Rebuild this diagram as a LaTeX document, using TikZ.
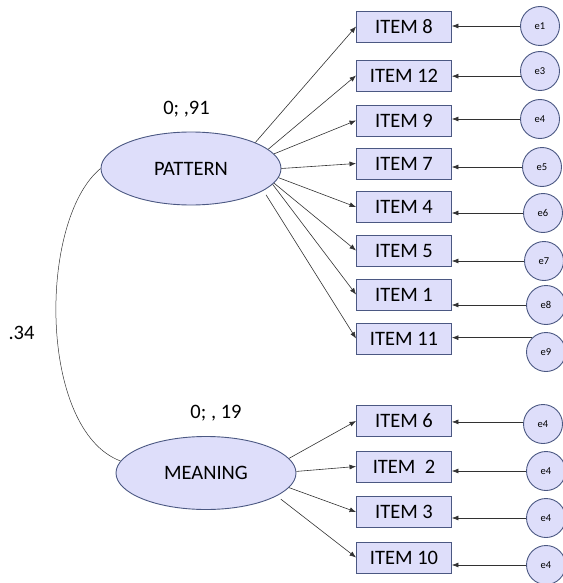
\documentclass[tikz,border=0pt]{standalone}
\usepackage{fontspec}
\setmainfont{Carlito}
\usetikzlibrary{arrows.meta,shapes.geometric}
\definecolor{fillc}{RGB}{222,222,250}
\definecolor{bordc}{RGB}{75,88,130}
\definecolor{linec}{RGB}{50,50,50}
\tikzset{
  itembox/.style={draw=bordc, fill=fillc, line width=0.9pt, minimum width=95pt, minimum height=31pt, inner sep=0pt, font=\fontsize{20.5}{21}\selectfont},
  latent/.style={ellipse, draw=bordc, fill=fillc, line width=0.9pt, minimum width=180pt, minimum height=73pt, inner sep=0pt, font=\fontsize{20.5}{21}\selectfont},
  errc/.style={circle, draw=bordc, fill=fillc, line width=0.9pt, minimum size=39pt, inner sep=0pt, font=\fontsize{10.5}{11}\selectfont},
  lbl/.style={inner sep=0pt, font=\fontsize{20.5}{21}\selectfont},
  conn/.style={draw=linec, line width=0.6pt, -{Latex[length=6.5pt,width=5pt]}}
}
\begin{document}
\begin{tikzpicture}[x=1pt,y=-1pt]
\useasboundingbox (0,0) rectangle (562,583);
% latent variables
\node[latent] (pat) at (191,168.5) {PATTERN};
\node[latent] (mea) at (206,473) {MEANING};
% items
\node[itembox] (i8)  at (404,26.5)  {ITEM 8};
\node[itembox] (i12) at (404,75.5)  {ITEM 12};
\node[itembox] (i9)  at (404,120.5) {ITEM 9};
\node[itembox] (i7)  at (404,163.5) {ITEM 7};
\node[itembox] (i4)  at (404,207)   {ITEM 4};
\node[itembox] (i5)  at (404,250.5) {ITEM 5};
\node[itembox] (i1)  at (404,294.5) {ITEM 1};
\node[itembox] (i11) at (404,338.5) {ITEM 11};
\node[itembox] (i6)  at (404,421)   {ITEM 6};
\node[itembox] (i2)  at (404,466.5) {ITEM~~2};
\node[itembox] (i3)  at (404,512)   {ITEM 3};
\node[itembox] (i10) at (404,557.5) {ITEM 10};
% error terms
\node[errc] (e1)  at (540,26)  {e1};
\node[errc] (e3)  at (540,71)  {e3};
\node[errc] (e4a) at (540,119) {e4};
\node[errc] (e5)  at (542,167) {e5};
\node[errc] (e6)  at (543,213) {e6};
\node[errc] (e7)  at (544,261) {e7};
\node[errc] (e8)  at (546,305) {e8};
\node[errc] (e9)  at (546,352) {e9};
\node[errc] (e4b) at (543,424) {e4};
\node[errc] (e4c) at (546,471) {e4};
\node[errc] (e4d) at (546,518) {e4};
\node[errc] (e4e) at (546,565) {e4};
% labels
\node[lbl] (l1) at (186.5,109) {0; ,91};
\node[lbl] (l2) at (216,413) {0; , 19};
\node[lbl] (l3) at (21.5,333) {.34};
% loadings PATTERN
\draw[conn] (pat.22)  -- (i8.west);
\draw[conn] (pat.14)  -- (i12.west);
\draw[conn] (pat.10)  -- (i9.west);
\draw[conn] (pat.0)   -- (i7.west);
\draw[conn] (pat.-6)  -- (i4.west);
\draw[conn] (pat.-10) -- (i5.west);
\draw[conn] (pat.-11) -- (i1.west);
\draw[conn, shorten <=5pt] (pat.-17) -- (i11.west);
% loadings MEANING
\draw[conn] (mea.10)  -- (i6.west);
\draw[conn] (mea.1)   -- (i2.west);
\draw[conn] (mea.-10) -- (i3.west);
\draw[conn, shorten <=5pt] (mea.-18) -- (i10.west);
% errors
\draw[conn] (e1.180)  -- (e1.180 -| i8.east);
\draw[conn] (e3.195)  -- (e3.195 -| i12.east);
\draw[conn] (e4a.180) -- (e4a.180 -| i9.east);
\draw[conn] (e5.180)  -- (e5.180 -| i7.east);
\draw[conn] (e6.180)  -- (e6.180 -| i4.east);
\draw[conn] (e7.180)  -- (e7.180 -| i5.east);
\draw[conn] (e8.180)  -- (e8.180 -| i1.east);
\draw[conn] (e9.134)  -- (e9.134 -| i11.east);
\draw[conn] (e4b.174) -- (e4b.174 -| i6.east);
\draw[conn] (e4c.180) -- (e4c.180 -| i2.east);
\draw[conn] (e4d.180) -- (e4d.180 -| i3.east);
\draw[conn] (e4e.180) -- (e4e.180 -| i10.east);
% covariance
\draw[draw=linec, line width=0.5pt] (pat.180) .. controls (38,220) and (38,430) .. (mea.172);
\end{tikzpicture}
\end{document}
